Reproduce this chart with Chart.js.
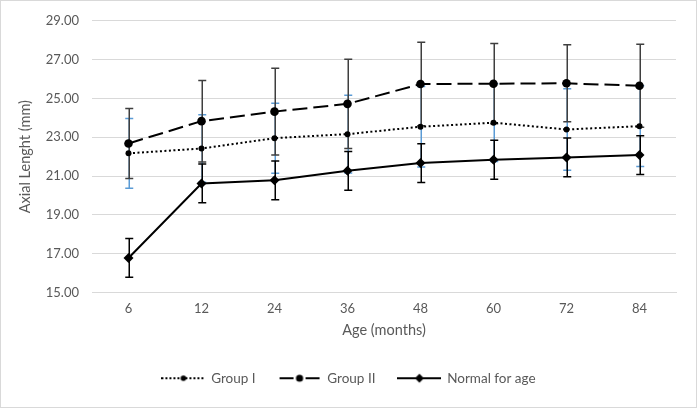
<!DOCTYPE html>
<html><head><meta charset="utf-8">
<script src="https://cdn.jsdelivr.net/npm/chart.js@4/dist/chart.umd.min.js"></script>
<style>html,body{margin:0;padding:0;background:#fff;}</style>
</head><body>
<canvas id="c" width="697" height="408"></canvas>
<script>
const categories = ['6', '12', '24', '36', '48', '60', '72', '84'];
const groupI    = [22.17, 22.42, 22.95, 23.16, 23.54, 23.75, 23.40, 23.57];
const groupII   = [22.68, 23.83, 24.32, 24.72, 25.74, 25.76, 25.78, 25.65];
const normalAge = [16.78, 20.62, 20.78, 21.27, 21.67, 21.84, 21.96, 22.08];
const groupISD  = [1.80, 1.74, 1.80, 2.00, 2.07, 2.00, 2.10, 2.08];
const groupIISD = [1.80, 2.10, 2.24, 2.30, 2.15, 2.07, 1.98, 2.14];
const normalSD  = [1.00, 1.00, 1.00, 1.00, 1.00, 1.00, 1.00, 1.00];
const seriesNames = ['Group I', 'Group II', 'Normal for age'];
const yTitle = 'Axial Lenght (mm)';
const xTitle = 'Age (months)';

const FONT = 'Lato, Carlito, Calibri, "Liberation Sans", sans-serif';
const TXT = '#595959';

function legendIcon(kind) {
  const w = 44, h = 12, c = document.createElement('canvas');
  c.width = w; c.height = h;
  const g = c.getContext('2d');
  g.strokeStyle = '#000'; g.fillStyle = '#000'; g.lineWidth = 2;
  const cy = h / 2, cx = w / 2;
  if (kind === 'dot') {
    g.setLineDash([2, 2]);
    g.beginPath(); g.moveTo(0, cy); g.lineTo(w, cy); g.stroke();
    g.setLineDash([]);
    g.beginPath(); g.arc(cx, cy, 2.8, 0, Math.PI * 2); g.fill();
  } else if (kind === 'dash') {
    g.beginPath(); g.moveTo(2, cy); g.lineTo(16, cy); g.moveTo(28, cy); g.lineTo(42, cy); g.stroke();
    g.beginPath(); g.arc(cx, cy, 3.6, 0, Math.PI * 2); g.fill();
  } else {
    g.beginPath(); g.moveTo(0, cy); g.lineTo(w, cy); g.stroke();
    g.beginPath(); g.moveTo(cx, cy - 4.5); g.lineTo(cx + 4.5, cy); g.lineTo(cx, cy + 4.5); g.lineTo(cx - 4.5, cy); g.closePath(); g.fill();
  }
  return c;
}
const icons = [legendIcon('dot'), legendIcon('dash'), legendIcon('solid')];

const errorSets = [
  { values: groupI, sd: groupISD, color: '#5B9BD5' },
  { values: groupII, sd: groupIISD, color: '#3f3f3f' },
  { values: normalAge, sd: normalSD, color: '#000000' }
];

const errorBarPlugin = {
  id: 'errbars',
  beforeDatasetsDraw(chart) {
    const ctx = chart.ctx, xs = chart.scales.x, ys = chart.scales.y;
    ctx.save();
    ctx.lineWidth = 1.5;
    errorSets.forEach(s => {
      ctx.strokeStyle = s.color;
      s.values.forEach((v, i) => {
        const x = Math.round(xs.getPixelForValue(i)) + 0.25;
        const yt = ys.getPixelForValue(v + s.sd[i]);
        const yb = ys.getPixelForValue(v - s.sd[i]);
        ctx.beginPath();
        ctx.moveTo(x, yt); ctx.lineTo(x, yb);
        ctx.moveTo(x - 4, yt); ctx.lineTo(x + 4, yt);
        ctx.moveTo(x - 4, yb); ctx.lineTo(x + 4, yb);
        ctx.stroke();
      });
    });
    ctx.restore();
  }
};

const framePlugin = {
  id: 'frame',
  afterLayout(chart) {
    if (chart.legend) { chart.legend.left += 11; chart.legend.right += 11; }
  },
  beforeDraw(chart) {
    const ctx = chart.ctx;
    ctx.save(); ctx.fillStyle = '#fff'; ctx.fillRect(0, 0, chart.width, chart.height); ctx.restore();
  },
  afterDraw(chart) {
    const ctx = chart.ctx;
    ctx.save(); ctx.strokeStyle = '#d9d9d9'; ctx.lineWidth = 1;
    ctx.strokeRect(0.5, 0.5, chart.width - 1, chart.height - 1); ctx.restore();
  }
};

new Chart(document.getElementById('c'), {
  type: 'line',
  data: {
    labels: categories,
    datasets: [
      { label: seriesNames[0], data: groupI, borderColor: '#000', backgroundColor: '#000',
        borderWidth: 2, borderDash: [2, 2.5], pointRadius: 3, pointBackgroundColor: '#000',
        pointBorderWidth: 0, pointStyle: 'circle', tension: 0, fill: false },
      { label: seriesNames[1], data: groupII, borderColor: '#000', backgroundColor: '#000',
        borderWidth: 2, borderDash: [15, 6], pointRadius: 4.3, pointBackgroundColor: '#000',
        pointBorderWidth: 0, pointStyle: 'circle', tension: 0, fill: false },
      { label: seriesNames[2], data: normalAge, borderColor: '#000', backgroundColor: '#000',
        borderWidth: 2, pointRadius: 5, pointBackgroundColor: '#000',
        pointBorderWidth: 0, pointStyle: 'rectRot', tension: 0, fill: false }
    ]
  },
  options: {
    responsive: false,
    animation: false,
    devicePixelRatio: 1,
    layout: { padding: { left: 0, right: 21, top: 19, bottom: 13 } },
    plugins: {
      tooltip: { enabled: false },
      legend: {
        position: 'bottom',
        labels: {
          usePointStyle: true,
          pointStyleWidth: 42,
          padding: 23,
          color: TXT,
          font: { family: FONT, size: 13.5 },
          generateLabels(chart) {
            return chart.data.datasets.map((d, i) => ({
              text: d.label, pointStyle: icons[i], datasetIndex: i,
              fillStyle: '#000', strokeStyle: '#000', lineWidth: 0, hidden: false, fontColor: TXT
            }));
          }
        }
      }
    },
    scales: {
      x: {
        offset: true,
        grid: { display: false, drawTicks: false, offset: true },
        border: { display: true, color: '#d9d9d9', width: 1 },
        ticks: { color: TXT, font: { family: FONT, size: 13 }, padding: 9 },
        title: { display: true, text: xTitle, color: TXT, font: { family: FONT, size: 14.5 }, padding: { top: 0, bottom: 9 } },
        afterFit(s) { s.height = 56; }
      },
      y: {
        min: 15, max: 29,
        grid: { color: '#d9d9d9', drawTicks: false, lineWidth: 1 },
        border: { display: false },
        ticks: { stepSize: 2, color: TXT, font: { family: FONT, size: 13 }, padding: 13,
                 callback: v => Number(v).toFixed(2) },
        title: { display: true, text: yTitle, color: TXT, font: { family: FONT, size: 14.5 }, padding: { top: 17, bottom: 0 } },
        afterFit(s) { s.width = 92; }
      }
    }
  },
  plugins: [errorBarPlugin, framePlugin]
});
</script>
</body></html>
